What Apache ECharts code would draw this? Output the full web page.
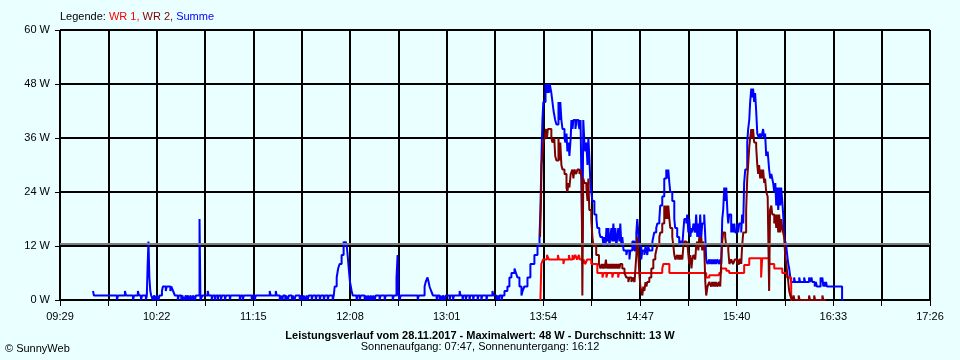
<!DOCTYPE html>
<html><head><meta charset="utf-8">
<script src="https://cdn.jsdelivr.net/npm/echarts@6/dist/echarts.min.js"></script>
<style>html,body{margin:0;padding:0;background:#eaffff}#c{width:960px;height:360px}</style>
</head><body><div id="c"></div>
<script>
// x values: minutes after 09:29 (axis runs 09:29 .. 17:26)
const startClock = 569;      // 09:29 in minutes of the day
const xMax = 477;            // 17:26
const xStep = 26.5;
const yMax = 60, yStep = 12;
const avgLine = 12.6;

// Summe (blue)
const sumT = [
 18.1,18.6,31.2,31.8,35.6,36.2,40.0,40.6,42.7,43.3,
 44.4,45.0,47.1,47.6,48.0,48.5,49.0,49.5,50.0,50.9,
 51.5,52.5,53.0,54.0,54.5,55.9,56.4,58.0,58.5,60.5,
 61.0,62.0,63.0,64.6,65.2,66.5,67.0,68.0,69.0,69.5,
 70.0,71.0,71.5,72.5,73.0,74.0,74.5,76.5,77.0,78.0,
 81.0,81.5,83.2,83.7,84.9,85.4,86.5,87.0,88.2,88.8,
 90.4,91.0,93.1,93.6,98.6,99.1,100.2,100.8,105.1,105.6,
 106.8,107.3,115.0,115.5,118.3,118.8,120.5,121.0,121.8,122.4,
 123.5,124.0,124.9,125.5,127.1,127.6,128.5,129.2,131.4,132.0,
 133.0,133.6,134.5,135.2,135.8,136.4,138.0,138.6,140.2,140.8,
 142.4,143.0,144.6,145.2,146.8,147.4,149.5,150.1,150.6,151.7,
 152.5,153.3,154.4,155.5,156.0,156.6,157.2,157.7,158.3,159.0,
 159.9,160.5,162.6,163.2,164.3,164.9,167.0,167.6,168.4,169.0,
 169.8,170.4,171.2,171.8,172.5,173.1,175.2,175.8,178.0,178.6,
 182.4,183.0,184.5,185.1,185.6,186.2,186.8,196.1,196.7,199.9,
 200.5,201.5,202.1,202.6,203.5,204.5,206.5,207.0,208.1,208.6,
 209.5,210.0,211.0,211.5,213.6,214.2,215.5,216.0,219.1,219.6,
 220.7,221.3,222.5,223.0,224.5,225.0,226.5,227.0,229.0,229.5,
 231.0,231.5,233.8,234.3,237.1,237.6,239.3,239.9,240.5,241.0,
 242.1,242.6,243.7,245.3,246.4,247.5,249.2,250.0,250.8,251.9,
 253.0,253.6,254.6,256.3,257.9,260.1,261.8,262.9,263.4,264.0,
 264.5,265.0,266.2,267.0,267.5,268.0,268.5,269.4,270.0,270.6,
 271.5,272.2,273.3,273.8,274.3,274.9,275.5,276.6,277.1,277.7,
 278.2,278.8,279.3,280.0,280.4,281.0,281.5,282.6,283.2,284.3,
 284.8,285.4,286.0,286.4,286.9,287.5,288.0,288.6,289.2,289.7,
 290.2,290.8,291.3,291.9,293.0,294.1,294.6,295.7,296.3,297.4,
 298.0,298.5,299.1,299.6,300.1,300.7,301.2,301.8,302.3,302.8,
 303.4,303.9,304.5,305.0,305.6,306.1,306.7,307.2,307.8,308.3,
 309.0,310.5,311.1,312.2,312.7,313.8,314.9,316.0,316.5,317.1,
 317.6,318.7,319.3,320.4,321.0,322.0,322.5,323.1,324.8,325.8,
 326.9,327.5,328.6,329.1,330.2,331.3,332.4,333.0,333.5,334.1,
 334.6,335.7,336.8,337.3,338.4,339.5,340.1,341.2,341.7,342.3,
 343.4,343.9,344.5,345.0,345.6,346.2,346.7,347.3,348.3,348.8,
 349.4,350.0,350.5,351.0,351.6,352.1,353.2,353.8,354.3,355.0,
 356.0,356.5,357.0,357.6,358.2,358.7,359.3,359.8,360.4,361.4,
 362.0,362.5,363.1,363.6,364.2,364.7,365.3,366.0,366.4,366.9,
 368.0,368.5,369.1,369.7,370.2,371.3,371.8,372.4,373.5,374.0,
 374.6,375.1,375.7,376.8,377.3,377.9,378.4,379.0,379.5,380.0,
 380.6,381.1,381.7,382.3,383.3,383.9,384.4,385.0,385.5,386.1,
 386.6,387.2,388.0,388.8,389.4,390.0,391.0,391.6,392.2,392.7,
 393.2,393.8,394.3,394.9,395.4,396.0,396.5,397.0,397.6,398.2,
 398.7,399.3,399.8,400.4,400.9,402.5,403.0,405.3,405.8,408.0,
 408.5,410.7,411.2,412.0,412.5,413.8,414.4,415.0,417.0,417.5,
 418.0,418.5,419.0,419.5,420.0,420.5,428.8,429.5
];
const sumW = [
 2,1,0,1,2,1,0,1,2,1,
 0,1,0,1,7,13,5,2,1,0,
 1,0,1,0,1,2,3,2,3,2,
 3,2,1,0,1,0,1,0,1,0,
 1,0,1,0,1,0,1,18,0,1,
 2,1,0,1,0,1,0,1,0,1,
 0,1,0,1,0,1,0,1,0,1,
 0,1,2,1,2,1,0,1,0,1,
 0,1,0,1,0,1,0,1,0,1,
 0,1,0,1,0,1,0,1,0,1,
 0,1,0,1,0,1,0,1,3,5,
 7,8,10,13,12,13,12,10,7,4,
 2,1,0,1,0,1,0,1,0,1,
 0,1,0,1,0,1,0,1,0,1,
 0,1,5,10,1,0,1,0,1,3,
 4,5,4,3,2,1,0,1,0,1,
 0,1,0,1,0,1,0,1,2,1,
 0,1,0,1,0,1,0,1,0,1,
 0,1,0,1,2,1,0,1,0,1,
 0,1,2,3,5,6,7,6,5,3,
 1,2,3,5,8,10,12,14,20,32,
 40,44,48,46,48,46,48,46,44,42,
 40,39,44,40,44,40,38,36,35,37,
 33,35,32,36,40,38,40,38,40,39,
 38,40,40,12,40,35,33,35,30,36,
 32,26,24,22,19,18,16,15,14,14,
 12,14,12,16,13,16,12,14,16,13,
 17,13,16,12,14,16,13,17,12,14,
 11,10,11,9,11,13,11,15,18,15,
 12,9,11,10,12,10,12,11,13,15,
 16,17,18,21,23,27,29,27,29,26,
 24,22,18,16,14,12,13,12,15,18,
 17,19,15,18,14,16,15,17,15,19,
 14,17,14,19,14,17,19,14,9,8,
 9,8,9,8,9,8,9,8,9,8,
 9,8,18,20,25,22,25,19,17,19,
 15,17,15,17,15,17,15,17,15,19,
 17,26,29,35,38,40,44,47,45,47,
 44,46,42,37,36,37,36,37,38,36,
 37,32,33,29,27,28,26,24,26,21,
 25,20,25,21,25,22,19,15,13,12,
 10,8,7,5,4,5,4,5,4,5,
 4,5,4,5,4,3,4,3,5,4,
 5,3,4,3,4,3,0,0
];

// WR 1 (red)
const wr1T = [
 263.4,263.9,264.8,267.0,268.0,273.0,273.5,276.0,276.5,279.0,
 279.5,281.0,281.5,282.5,283.5,284.5,285.0,286.5,287.0,288.0,
 289.0,291.3,294.6,297.4,298.0,299.6,300.1,302.8,303.4,306.0,
 306.5,330.2,330.8,334.1,354.3,356.0,361.4,362.5,365.3,366.9,
 375.1,377.9,384.4,385.0,388.8,391.6,396.0,398.7,400.9,401.5
];
const wr1W = [
 0,8,9,10,9,10,9,8,9,10,
 9,10,9,10,9,10,9,8,9,8,
 9,8,6,5,6,5,6,5,6,5,
 6,7,8,6,5,5.5,6,7,6.5,6,
 7.8,9.3,5,9.3,8,7,6,5,0,0
];

// WR 2 (dark red)
const wr2T = [
 263.2,263.7,264.0,264.5,265.0,265.8,266.5,267.0,267.5,269.4,
 270.0,271.0,271.5,272.2,273.3,273.8,274.3,274.9,275.5,276.6,
 277.7,278.2,278.8,279.3,280.0,280.9,281.5,282.0,283.0,283.7,
 284.8,285.4,286.0,286.4,286.9,287.5,288.6,289.2,289.7,290.2,
 291.3,291.9,292.5,294.0,295.5,296.3,297.0,297.6,298.2,298.7,
 299.3,299.8,300.3,300.9,301.5,302.0,302.6,303.2,303.8,304.4,
 305.0,305.6,306.1,306.7,307.2,308.3,309.5,310.5,311.6,312.2,
 313.3,314.0,315.0,316.0,316.5,317.1,317.6,318.2,318.7,319.3,
 319.8,320.4,321.0,321.5,322.0,323.1,324.2,325.3,326.4,326.9,
 327.5,328.6,329.1,330.2,331.3,332.0,332.5,333.0,333.5,334.1,
 334.6,335.7,336.3,336.8,337.4,338.4,339.0,339.5,340.1,340.6,
 341.2,341.8,342.3,343.4,343.9,344.5,345.0,345.6,346.2,346.7,
 347.3,348.3,348.8,349.4,350.0,350.5,351.0,351.6,352.1,352.6,
 353.2,353.8,354.3,355.0,356.0,357.0,357.6,358.2,358.7,359.3,
 359.8,360.4,361.4,362.0,362.5,363.1,363.6,364.7,365.3,366.4,
 367.0,368.0,369.0,370.0,371.3,372.4,373.5,374.0,374.6,376.2,
 376.8,377.3,377.9,378.4,379.0,379.5,380.0,380.6,381.7,382.3,
 382.8,383.3,383.9,384.4,385.0,385.5,386.1,386.6,387.2,388.0,
 388.8,389.3,390.0,390.5,391.6,392.2,392.7,393.2,393.8,394.3,
 394.9,395.4,396.0,396.5,397.0,397.6,398.2,398.7,399.3,399.8,
 400.4,401.4,402.2,402.7,405.0,405.5,410.7,411.2,413.5,414.0,
 418.0,418.5,420.0
];
const wr2W = [
 14,22,30,32,35,36,38,36,38,36,
 35,36,32,31,36,31,35,30,29,28,
 25,24,26,25,28,29,27,29,28,29,
 28,29,27,1,27,26,25,22,27,20,
 18,14,12,10,8,7,8,7,8,7,
 9,7,8,7,8,7,8,7,8,7,
 8,7,8,7,8,7,6,5,4,5,
 4,5,4,10,14,10,6,3,2,1,
 3,2,4,3,4,5,7,9,10,11,
 12,14,15,17,21,18,21,18,21,18,
 16,14,12,10,9,10,9,10,9,10,
 9,12,13,12,13,10,8,10,7,9,
 10,9,12,13,11,14,12,14,11,13,
 12,4,1,3,4,3,4,3,4,3,
 4,3,4,3,8,13,15,14,12,11,
 8,9,8,9,8,9,8,12,15,20,
 27,30,34,36,38,36,38,35,34,30,
 28,30,27,29,27,29,26,27,24,23,
 2,20,21,19,17,19,16,19,15,19,
 15,18,16,15,14,10,8,6,4,2,
 1,0,1,0,1,0,1,0,1,0,
 1,0,0
];

const pairs = (t, w) => t.map((x, i) => [x, w[i]]);
const FONT = 'Liberation Sans, Arial, sans-serif';

function clock(v) {
  const k = Math.round(v / xStep);
  if (k % 2) return '';
  const m = Math.round(startClock + v);
  const hh = Math.floor(m / 60), mm = m % 60;
  return (hh < 10 ? '0' : '') + hh + ':' + (mm < 10 ? '0' : '') + mm;
}

const chart = echarts.init(document.getElementById('c'), null, {renderer: 'canvas'});
chart.setOption({
  animation: false,
  backgroundColor: '#eaffff',
  grid: {left: 60, right: 30, top: 30, bottom: 60, containLabel: false},
  xAxis: {
    type: 'value', min: 0, max: xMax, interval: xStep,
    axisLine: {show: true, lineStyle: {color: '#000', width: 1}},
    axisTick: {show: true, length: 6, lineStyle: {color: '#000', width: 1}},
    axisLabel: {formatter: clock, color: '#000', fontFamily: FONT, fontSize: 11, margin: 11, showMinLabel: true, showMaxLabel: true},
    splitLine: {show: true, lineStyle: {color: '#000', width: 2}}
  },
  yAxis: {
    type: 'value', min: 0, max: yMax, interval: yStep,
    axisLine: {show: true, lineStyle: {color: '#000', width: 1}},
    axisTick: {show: true, length: 5, lineStyle: {color: '#000', width: 1}},
    axisLabel: {formatter: '{value} W', color: '#000', fontFamily: FONT, fontSize: 11, margin: 10},
    splitLine: {show: true, lineStyle: {color: '#000', width: 2}}
  },
  series: [
    {name: 'Summe', type: 'line', step: 'end', showSymbol: false, symbol: 'none',
     data: pairs(sumT, sumW), lineStyle: {color: '#0000ff', width: 2}, itemStyle: {color: '#0000ff'},
     markLine: {silent: true, symbol: ['none', 'none'], label: {show: false},
       lineStyle: {color: '#808080', width: 2, type: 'solid'}, data: [{yAxis: avgLine}]}},
    {name: 'WR 1', type: 'line', step: 'end', showSymbol: false, symbol: 'none',
     data: pairs(wr1T, wr1W), lineStyle: {color: '#ff0000', width: 2}, itemStyle: {color: '#ff0000'}},
    {name: 'WR 2', type: 'line', step: 'end', showSymbol: false, symbol: 'none',
     data: pairs(wr2T, wr2W), lineStyle: {color: '#800000', width: 2}, itemStyle: {color: '#800000'}}
  ],
  graphic: [
    {type: 'text', x: 60, y: 17, style: {
      text: '{k|Legende: }{a|WR 1, }{b|WR 2, }{c|Summe}',
      verticalAlign: 'middle', font: '11px ' + FONT,
      rich: {
        k: {fill: '#000', font: '11px ' + FONT},
        a: {fill: '#ff0000', font: '11px ' + FONT},
        b: {fill: '#800000', font: '11px ' + FONT},
        c: {fill: '#0000ff', font: '11px ' + FONT}
      }}},
    {type: 'text', x: 480, y: 336, style: {
      text: 'Leistungsverlauf vom 28.11.2017 - Maximalwert: 48 W - Durchschnitt: 13 W',
      align: 'center', verticalAlign: 'middle', fill: '#000', font: 'bold 11px ' + FONT}},
    {type: 'text', x: 480, y: 347, style: {
      text: 'Sonnenaufgang: 07:47, Sonnenuntergang: 16:12',
      align: 'center', verticalAlign: 'middle', fill: '#000', font: '11px ' + FONT}},
    {type: 'text', x: 5, y: 349, style: {
      text: '© SunnyWeb', align: 'left', verticalAlign: 'middle', fill: '#000', font: '11px ' + FONT}}
  ]
});
</script>
</body></html>
